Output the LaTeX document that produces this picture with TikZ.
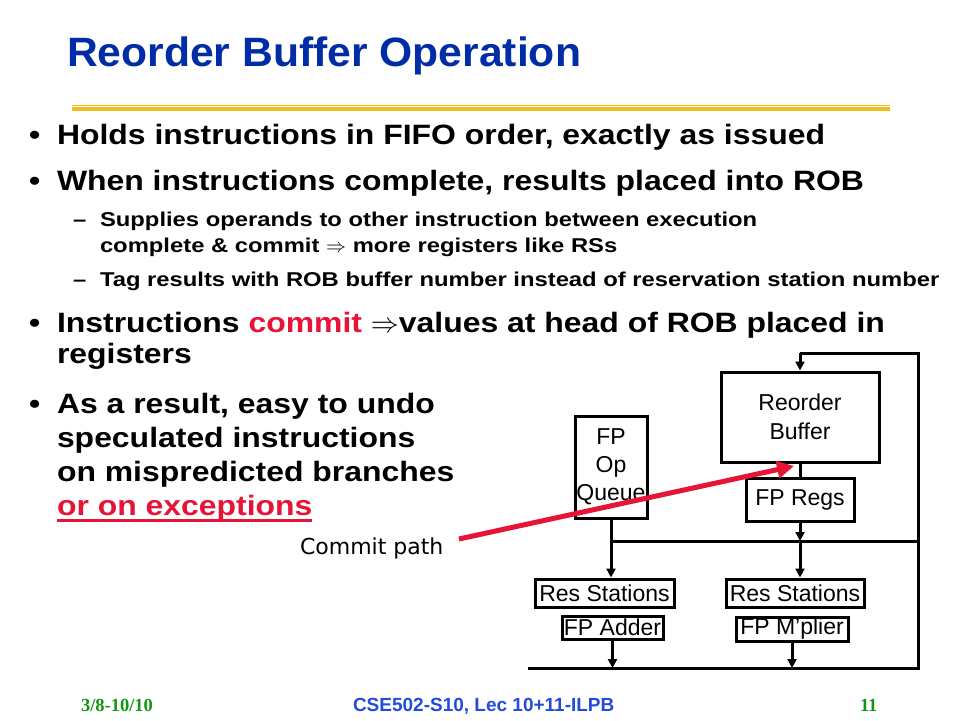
\RequirePackage{fix-cm}
\documentclass[tikz,border=0pt]{standalone}
\usepackage{fontspec}
\setmainfont{Liberation Sans}
\newfontfamily\titlef[FakeStretch=1.04]{Liberation Sans}
\newfontfamily\bodyf[FakeStretch=1.14]{Liberation Sans}
\newfontfamily\subf[FakeStretch=1.19]{Liberation Sans}
\newfontfamily\serf{Liberation Serif}
\newfontfamily\commf{DejaVu Sans}
\usetikzlibrary{arrows.meta}
\definecolor{ttlblue}{RGB}{0,45,165}
\definecolor{ftblue}{RGB}{35,75,220}
\definecolor{ftgreen}{RGB}{20,150,20}
\definecolor{slred}{RGB}{230,20,55}
\definecolor{slyellow}{RGB}{240,190,30}
\tikzset{
  txt/.style={anchor=base west, inner sep=0pt, outer sep=0pt},
  bullettxt/.style={txt, font=\bodyf\bfseries\fontsize{28}{34}\selectfont},
  subtxt/.style={txt, font=\subf\bfseries\fontsize{20}{25}\selectfont},
  box/.style={draw, line width=3pt, inner sep=0pt, font=\fontsize{23}{28}\selectfont},
  wire/.style={line width=3pt},
  arr/.style={line width=3pt, -{Triangle[length=9pt,width=9pt]}},
  footg/.style={txt, font=\serf\bfseries\fontsize{18.5}{21}\selectfont, text=ftgreen},
}
\begin{document}
\begin{tikzpicture}[x=1pt,y=-1pt]
\useasboundingbox (0,0) rectangle (960,720);
\fill[white] (0,0) rectangle (960,720);
% title
\node[txt, font=\titlef\bfseries\fontsize{41}{48}\selectfont, text=ttlblue] (title) at (67,66) {Reorder Buffer Operation};
\draw[slyellow, line width=1pt] (72,105.5) -- (890,105.5);
\draw[slyellow, line width=3.5pt] (72,109) -- (890,109);
% bullets
\node[bullettxt] (b1d) at (29,144) {•};
\node[bullettxt] (b1) at (57,144) {Holds instructions in FIFO order, exactly as issued};
\node[bullettxt] (b2d) at (29,190) {•};
\node[bullettxt] (b2) at (57,190) {When instructions complete, results placed into ROB};
\node[subtxt] (s1d) at (73,226) {–};
\node[subtxt] (s1) at (100,226) {Supplies operands to other instruction between execution};
\node[subtxt] (s1b) at (100,252) {complete \& commit $\Rightarrow$ more registers like RSs};
\node[subtxt] (s2d) at (73,286) {–};
\node[subtxt] (s2) at (100,286) {Tag results with ROB buffer number instead of reservation station number};
\node[bullettxt] (b3d) at (29,332) {•};
\node[bullettxt] (b3) at (57,332) {Instructions \textcolor{slred}{commit} $\Rightarrow$values at head of ROB placed in};
\node[bullettxt] (b3b) at (57,363) {registers};
\node[bullettxt] (b4d) at (29,413) {•};
\node[bullettxt] (b4) at (57,413) {As a result, easy to undo};
\node[bullettxt] (b4b) at (57,447) {speculated instructions};
\node[bullettxt] (b4c) at (57,481) {on mispredicted branches};
\node[bullettxt, text=slred] (b4e) at (57,515) {or on exceptions};
\draw[slred, line width=2.5pt] ([yshift=-5.5pt]b4e.base west) -- ([yshift=-5.5pt]b4e.base east);
% commit path label
\node[txt, font=\commf\fontsize{22}{26}\selectfont] (cpath) at (300,554) {Commit path};
% diagram boxes
\node[box, minimum width=158pt, minimum height=90pt, align=center, font=\fontsize{23}{29}\selectfont] (rob) at (800,417) {Reorder\\Buffer};
\node[box, minimum width=108pt, minimum height=43pt] (regs) at (800,499.5) {FP Regs};
\node[box, minimum width=72pt, minimum height=102pt, align=center] (fpq) at (611,467) {FP\\Op\\Queue};
\node[box, minimum width=139pt, minimum height=28pt] (rs1) at (604.5,593) {Res Stations};
\node[box, minimum width=138pt, minimum height=28pt] (rs2) at (795,593) {Res Stations};
\node[box, minimum width=101pt, minimum height=23pt] (add) at (612.5,627.5) {FP Adder};
\node[box, minimum width=112pt, minimum height=24pt] (mul) at (792,629) {FP M’plier};
% wire coordinates
\coordinate (tr) at (918,353);
\coordinate (br) at (918,668);
\coordinate (bl) at (528,668);
\coordinate (busr) at (918,541);
% wires
\draw[wire] (bl) -- (br) -- (tr) -- (rob.north |- tr);
\draw[arr] (rob.north |- tr) -- (rob.north);
\draw[wire] (rob.south) -- (regs.north);
\draw[arr] (regs.south) -- (regs.south |- busr);
\draw[wire] (fpq.south |- busr) -- (busr);
\draw[arr] (regs.south |- busr) -- (regs.south |- rs2.north);
\draw[arr] (fpq.south) -- (fpq.south |- rs1.north);
\draw[arr] (add.south) -- (add.south |- bl);
\draw[arr] (mul.south) -- (mul.south |- bl);
% commit path arrow
\coordinate (cs) at (459,539);
\coordinate (ce) at (794,466);
\draw[slred, line width=5pt, -{Triangle[length=17pt,width=17pt]}] (cs) -- (ce);
% footer
\node[footg] (fdate) at (81,711) {3/8-10/10};
\node[txt, font=\bfseries\fontsize{19}{22}\selectfont, text=ftblue] (fcourse) at (353,711) {CSE502-S10, Lec 10+11-ILPB};
\node[footg] (fpage) at (860,711) {11};
\end{tikzpicture}
\end{document}
